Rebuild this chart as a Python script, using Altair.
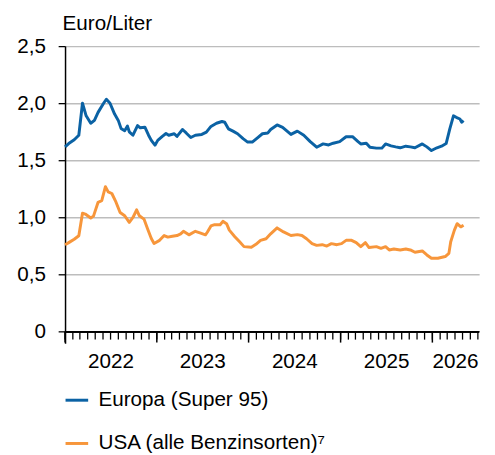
import altair as alt
import pandas as pd
import numpy as np

# Time as decimal years, values in Euro/Liter
eu_t = [2022.00, 2022.04, 2022.10, 2022.15, 2022.19, 2022.23, 2022.28, 2022.32, 2022.36, 2022.42,
        2022.45, 2022.49, 2022.54, 2022.58, 2022.61, 2022.65, 2022.68, 2022.70, 2022.74, 2022.79,
        2022.82, 2022.87, 2022.91, 2022.94, 2022.98, 2023.01, 2023.06, 2023.10, 2023.13, 2023.19,
        2023.22, 2023.28, 2023.32, 2023.37, 2023.42, 2023.49, 2023.54, 2023.59, 2023.65, 2023.71,
        2023.74, 2023.78, 2023.83, 2023.88, 2023.94, 2023.99, 2024.04, 2024.10, 2024.15, 2024.21,
        2024.24, 2024.31, 2024.37, 2024.46, 2024.53, 2024.60, 2024.67, 2024.74, 2024.81, 2024.87,
        2024.92, 2024.99, 2025.06, 2025.13, 2025.19, 2025.22, 2025.28, 2025.32, 2025.39, 2025.45,
        2025.49, 2025.55, 2025.60, 2025.65, 2025.71, 2025.76, 2025.81, 2025.89, 2025.94, 2025.99,
        2026.05, 2026.10, 2026.15, 2026.19, 2026.23, 2026.26, 2026.30, 2026.32, 2026.34]
eu_v = [1.618, 1.647, 1.68, 1.72, 2.00, 1.89, 1.825, 1.85, 1.92, 2.00,
        2.035, 2.00, 1.905, 1.85, 1.78, 1.76, 1.80, 1.75, 1.72, 1.805,
        1.785, 1.79, 1.72, 1.675, 1.633, 1.675, 1.71, 1.735, 1.72, 1.733,
        1.71, 1.77, 1.74, 1.70, 1.72, 1.727, 1.747, 1.797, 1.825, 1.84,
        1.834, 1.776, 1.756, 1.733, 1.69, 1.66, 1.66, 1.70, 1.733, 1.74,
        1.77, 1.81, 1.788, 1.727, 1.756, 1.72, 1.664, 1.615, 1.644, 1.635,
        1.65, 1.664, 1.707, 1.707, 1.664, 1.644, 1.65, 1.615, 1.607, 1.607,
        1.644, 1.627, 1.618, 1.61, 1.624, 1.618, 1.61, 1.644, 1.618, 1.586,
        1.61, 1.624, 1.647, 1.776, 1.89, 1.877, 1.862, 1.834, 1.848]

us_t = [2022.00, 2022.04, 2022.10, 2022.15, 2022.19, 2022.22, 2022.28, 2022.31, 2022.36, 2022.40,
        2022.44, 2022.47, 2022.51, 2022.55, 2022.60, 2022.65, 2022.70, 2022.74, 2022.78, 2022.81,
        2022.86, 2022.90, 2022.94, 2022.97, 2023.03, 2023.08, 2023.12, 2023.17, 2023.22, 2023.26,
        2023.29, 2023.35, 2023.42, 2023.47, 2023.53, 2023.55, 2023.59, 2023.63, 2023.69, 2023.72,
        2023.76, 2023.79, 2023.85, 2023.90, 2023.95, 2024.03, 2024.08, 2024.13, 2024.19, 2024.24,
        2024.31, 2024.38, 2024.46, 2024.53, 2024.58, 2024.63, 2024.69, 2024.74, 2024.80, 2024.85,
        2024.90, 2024.96, 2025.01, 2025.06, 2025.12, 2025.17, 2025.22, 2025.27, 2025.31, 2025.39,
        2025.44, 2025.49, 2025.53, 2025.58, 2025.65, 2025.71, 2025.76, 2025.81, 2025.89, 2025.94,
        2025.99, 2026.06, 2026.14, 2026.18, 2026.20, 2026.24, 2026.27, 2026.31, 2026.34]
us_v = [0.762, 0.78, 0.81, 0.84, 1.038, 1.03, 0.995, 1.012, 1.133, 1.147,
        1.27, 1.224, 1.21, 1.144, 1.043, 1.015, 0.957, 1.0, 1.067, 1.015,
        0.986, 0.90, 0.816, 0.773, 0.80, 0.842, 0.828, 0.836, 0.842, 0.857,
        0.879, 0.848, 0.879, 0.865, 0.848, 0.871, 0.926, 0.937, 0.937, 0.966,
        0.946, 0.889, 0.832, 0.789, 0.745, 0.74, 0.765, 0.80, 0.814, 0.857,
        0.909, 0.874, 0.842, 0.85, 0.842, 0.814, 0.771, 0.756, 0.762, 0.75,
        0.771, 0.762, 0.771, 0.80, 0.80, 0.78, 0.745, 0.78, 0.737, 0.745,
        0.73, 0.745, 0.716, 0.724, 0.716, 0.724, 0.716, 0.696, 0.707, 0.672,
        0.643, 0.643, 0.658, 0.686, 0.788, 0.889, 0.946, 0.918, 0.932]

series_names = ["Europa (Super 95)", "USA (alle Benzinsorten)⁷"]
series_colors = ["#0b62a4", "#f7963b"]

# x-axis tick positions: first of every month, longer ones at each year start
month_ticks = pd.date_range("2022-01-01", "2026-07-01", freq="MS").strftime("%Y-%m-%dT00:00:00").tolist()
year_ticks = ["2022-01-01T00:00:00", "2023-01-01T00:00:00", "2024-01-01T00:00:00",
              "2025-01-01T00:00:00", "2026-01-01T00:00:00"]


def dec_to_date(y):
    yr = int(np.floor(y))
    frac = y - yr
    start = pd.Timestamp(yr, 1, 1)
    end = pd.Timestamp(yr + 1, 1, 1)
    return (start + (end - start) * frac).strftime("%Y-%m-%dT%H:%M:%S")


rows = []
for t, v in zip(eu_t, eu_v):
    rows.append({"date": dec_to_date(t), "value": v, "series": series_names[0]})
for t, v in zip(us_t, us_v):
    rows.append({"date": dec_to_date(t), "value": v, "series": series_names[1]})
df = pd.DataFrame(rows)
df_month = pd.DataFrame({"date": month_ticks})
df_year = pd.DataFrame({"date": year_ticks})

FONT = "Liberation Sans"

x_domain = [alt.DateTime(year=2022, month=1, date=1), alt.DateTime(year=2026, month=7, date=6)]
y_scale = alt.Scale(domain=[-0.1, 2.5], nice=False, zero=False)

label_expr_x = ("((month(datum.value) == 6 && year(datum.value) < 2026) || "
                "(month(datum.value) == 3 && year(datum.value) == 2026)) "
                "? timeFormat(datum.value, '%Y') : ''")
label_expr_y = "datum.value == 0 ? '0' : replace(format(datum.value, '.1f'), '.', ',')"

x_enc = alt.X(
    "date:T",
    scale=alt.Scale(domain=x_domain),
    axis=alt.Axis(
        title=None,
        tickCount={"interval": "month", "step": 1},
        labelExpr=label_expr_x,
        labelOverlap=False,
        labelFlush=False,
        labelBound=False,
        grid=False,
        ticks=False,
        domain=False,
        labelPadding=8,
        labelFontSize=21,
        labelColor="black",
        labelFont=FONT,
    ),
)

y_axis = alt.Axis(
    values=[0, 0.5, 1.0, 1.5, 2.0, 2.5],
    labelExpr=label_expr_y,
    title="Euro/Liter",
    titleAngle=0,
    titleAlign="left",
    titleBaseline="alphabetic",
    titleX=-3,
    titleY=-17,
    titleFontWeight="normal",
    titleFontSize=21,
    titleFont=FONT,
    titleColor="black",
    grid=True,
    gridColor="#bdbdbd",
    gridWidth=1.5,
    domainColor="black",
    domainWidth=1.5,
    tickColor="black",
    tickWidth=1.3,
    tickSize=7,
    labelPadding=13,
    labelFontSize=21,
    labelColor="black",
    labelFont=FONT,
)

lines = alt.Chart(df).mark_line(strokeWidth=3, strokeJoin="round").encode(
    x=x_enc,
    y=alt.Y("value:Q", scale=y_scale, axis=y_axis),
    color=alt.Color(
        "series:N",
        scale=alt.Scale(domain=series_names, range=series_colors),
        legend=alt.Legend(
            orient="none",
            legendX=-1,
            legendY=347,
            title=None,
            symbolType="stroke",
            symbolSize=529,
            symbolStrokeWidth=3,
            labelFontSize=21,
            labelFont=FONT,
            labelColor="black",
            labelOffset=9,
            labelLimit=0,
            rowPadding=21,
            padding=0,
        ),
    ),
)

# x-axis base line at 0
base_line = alt.Chart(df_year).mark_rule(color="black", strokeWidth=1.5).encode(
    y=alt.datum(0),
)

month_rules = alt.Chart(df_month).mark_rule(color="black", strokeWidth=1.3).encode(
    x=x_enc,
    y=alt.datum(0),
    y2=alt.datum(-0.069),
)

year_rules = alt.Chart(df_year).mark_rule(color="black", strokeWidth=1.5).encode(
    x=x_enc,
    y=alt.datum(0),
    y2=alt.datum(-0.095),
)

chart = alt.layer(lines, base_line, month_rules, year_rules).properties(
    width=421,
    height=302,
    autosize=alt.AutoSizeParams(type="none"),
    padding={"left": 58, "top": 35, "right": 8, "bottom": 113},
).configure(font=FONT, view=alt.ViewConfig(strokeWidth=0))

chart.save("out.html", embed_options={"renderer": "svg", "actions": False})
